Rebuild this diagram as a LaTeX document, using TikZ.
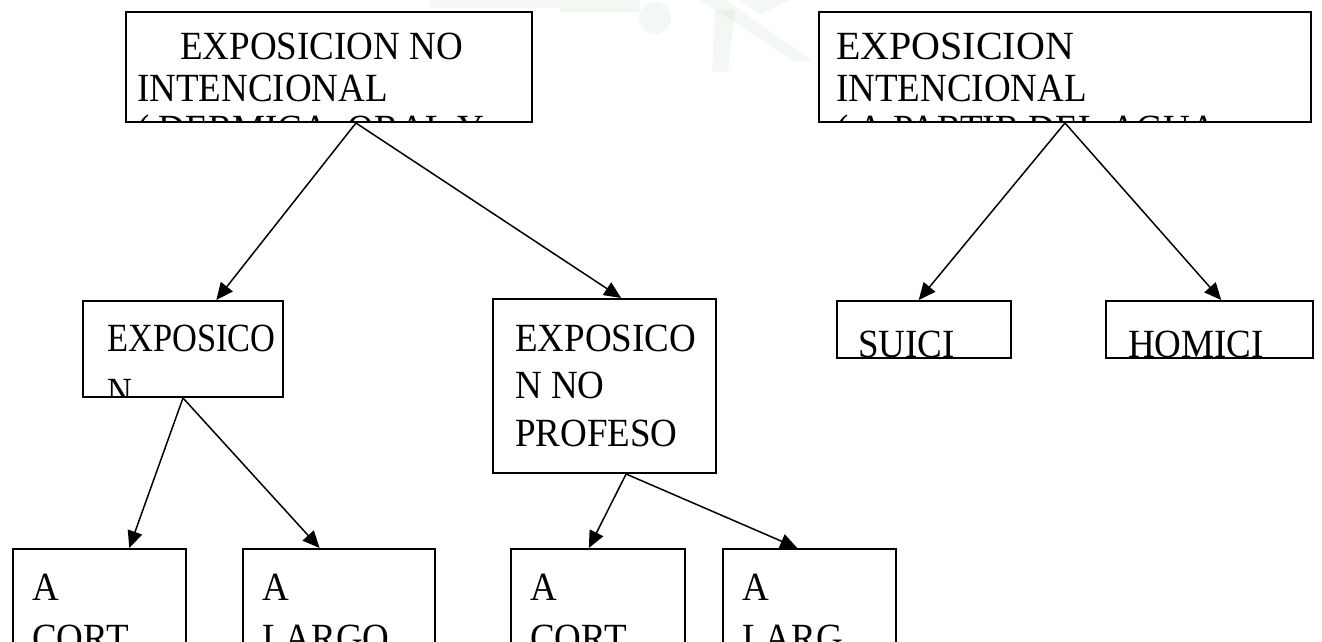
\documentclass[tikz,border=0pt]{standalone}
\usepackage{fontspec}
\usepackage{graphicx}
\setmainfont{Liberation Serif}
\usetikzlibrary{arrows.meta,calc}
\newcommand{\nrw}[2][0.925]{\scalebox{#1}[1]{#2}}
\begin{document}
\begin{tikzpicture}[x=1pt,y=-1pt,
  box/.style={draw, line width=2pt, inner sep=0pt, anchor=north west},
  txt/.style={anchor=base west, inner sep=0pt, font=\fontsize{40}{47}\selectfont},
  arr/.style={line width=1.5pt, -{Triangle[length=17pt,width=15pt]}},
  wm/.style={fill=green!20!gray, opacity=0.07}]
\useasboundingbox (0,0) rectangle (1322,641);
\clip (0,0) rectangle (1322,641);
% faint watermark
\fill[wm] (430,0) rectangle (560,8);
\fill[wm] (560,0) rectangle (640,12);
\fill[wm] (655,18) circle (16);
\fill[wm] (700,0) -- (725,0) -- (812,60) -- (795,62) -- cycle;
\fill[wm] (715,10) -- (735,10) -- (728,72) -- (712,72) -- cycle;
\fill[wm] (740,0) -- (790,0) -- (760,14) -- cycle;
% texts (clipped by their boxes)
\begin{scope}\clip (126,12) rectangle (530,120);
  \node[txt] (t1a) at (180,59) {\nrw{EXPOSICION NO}};
  \node[txt] (t1b) at (137,101) {\nrw{INTENCIONAL}};
  \node[txt] (t1c) at (137,142) {\nrw{( DERMICA, ORAL Y}};
\end{scope}
\begin{scope}\clip (819,12) rectangle (1309,120);
  \node[txt] (t2a) at (836,59) {\nrw[1.0]{EXPOSICION}};
  \node[txt] (t2b) at (836,101) {\nrw{INTENCIONAL}};
  \node[txt] (t2c) at (836,142) {\nrw{( A PARTIR DEL AGUA}};
\end{scope}
\begin{scope}\clip (83,301) rectangle (281,395);
  \node[txt] (t3a) at (107,351) {\nrw[0.86]{EXPOSICO}};
  \node[txt] (t3b) at (107,405) {\nrw[0.86]{N}};
\end{scope}
\begin{scope}\clip (493,299) rectangle (714,471);
  \node[txt] (t4a) at (515,351) {\nrw{EXPOSICO}};
  \node[txt] (t4b) at (515,398) {\nrw{N NO}};
  \node[txt] (t4c) at (515,446) {\nrw{PROFESO}};
\end{scope}
\begin{scope}\clip (837,301) rectangle (1009,356);
  \node[txt] (t5) at (858,357) {\nrw{SUICI}};
\end{scope}
\begin{scope}\clip (1106,301) rectangle (1311,356);
  \node[txt] (t6) at (1128,357) {\nrw{HOMICI}};
\end{scope}
\begin{scope}\clip (13,549) rectangle (184,641);
  \node[txt] (t7a) at (32,600) {\nrw{A}};
  \node[txt] (t7b) at (32,651) {\nrw{CORT}};
\end{scope}
\begin{scope}\clip (243,549) rectangle (433,641);
  \node[txt] (t8a) at (262,600) {\nrw{A}};
  \node[txt] (t8b) at (262,651) {\nrw{LARGO}};
\end{scope}
\begin{scope}\clip (511,549) rectangle (683,641);
  \node[txt] (t9a) at (530,600) {\nrw{A}};
  \node[txt] (t9b) at (530,651) {\nrw{CORT}};
\end{scope}
\begin{scope}\clip (723,549) rectangle (894,641);
  \node[txt] (t10a) at (742,600) {\nrw{A}};
  \node[txt] (t10b) at (742,651) {\nrw{LARG}};
\end{scope}
% boxes
\node[box, minimum width=406pt, minimum height=110pt] (b1) at (125,11) {};
\node[box, minimum width=492pt, minimum height=110pt] (b2) at (818,11) {};
\node[box, minimum width=200pt, minimum height=96pt] (b3) at (82,300) {};
\node[box, minimum width=223pt, minimum height=174pt] (b4) at (492,298) {};
\node[box, minimum width=174pt, minimum height=57pt] (b5) at (836,300) {};
\node[box, minimum width=207pt, minimum height=57pt] (b6) at (1105,300) {};
\node[box, minimum width=173pt, minimum height=120pt] (b7) at (12,548) {};
\node[box, minimum width=192pt, minimum height=120pt] (b8) at (242,548) {};
\node[box, minimum width=174pt, minimum height=120pt] (b9) at (510,548) {};
\node[box, minimum width=173pt, minimum height=120pt] (b10) at (722,548) {};
% connectors
\coordinate (o1) at ($(b1.south west)!0.566!(b1.south east)$);
\draw[arr] (o1) -- ($(b3.north west)!0.665!(b3.north east)$);
\draw[arr] (o1) -- ($(b4.north west)!0.574!(b4.north east)$);
\draw[arr] (b2.south) -- ($(b5.north west)!0.47!(b5.north east)$);
\draw[arr] (b2.south) -- ($(b6.north west)!0.556!(b6.north east)$);
\draw[arr] (b3.south) -- ($(b7.north west)!0.67!(b7.north east)$);
\draw[arr] (b3.south) -- ($(b8.north west)!0.4!(b8.north east)$);
\coordinate (o4) at ($(b4.south west)!0.596!(b4.south east)$);
\draw[arr] (o4) -- ($(b9.north west)!0.448!(b9.north east)$);
\draw[arr] (o4) -- ($(b10.north west)!0.43!(b10.north east)$);
\end{tikzpicture}
\end{document}
